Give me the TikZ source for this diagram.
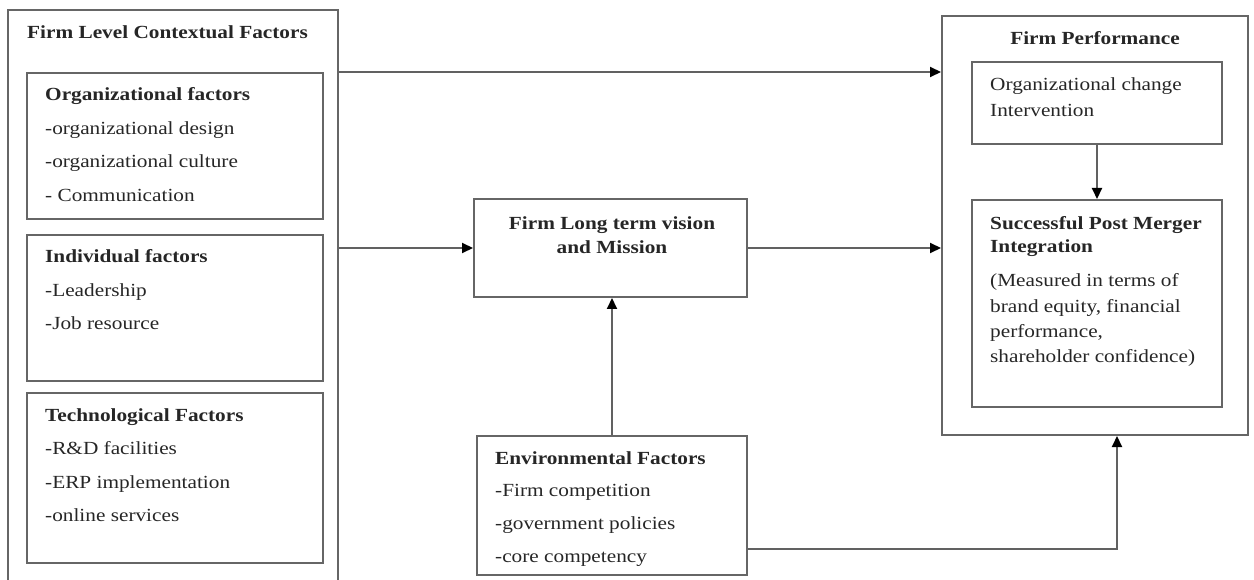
\documentclass[tikz,border=0pt]{standalone}
\usepackage{fontspec}
\setmainfont{Liberation Serif}[FakeStretch=1.15]
\usetikzlibrary{arrows.meta}

\tikzset{
  box/.style={draw=black!60, line width=2pt, inner sep=0pt},
  txt/.style={anchor=base west, inner sep=0pt, text=black!85},
  arr/.style={draw=black!62, line width=2pt, -{Triangle[length=11pt,width=10pt,black]}},
}

\begin{document}
\begin{tikzpicture}[x=1pt, y=-1pt, font=\fontsize{18.5}{22}\selectfont]
  \useasboundingbox (0,0) rectangle (1254,580);
  \clip (0,0) rectangle (1254,580);

  % left column
  \node[box, minimum width=330pt, minimum height=590pt] (ctx) at (173,305) {};
  \node[txt] (ctx-title) at (27,39) {\textbf{Firm Level Contextual Factors}};
  \node[box, minimum width=296pt, minimum height=146pt] (org) at (175,146) {};
  \node[box, minimum width=296pt, minimum height=146pt] (ind) at (175,308) {};
  \node[box, minimum width=296pt, minimum height=170pt] (tech) at (175,478) {};
  \foreach \t [count=\i from 0] in {\textbf{Organizational factors}, -organizational design, -organizational culture, - Communication}
    \node[txt] (org-\i) at (45,{101+33.5*\i}) {\t};
  \foreach \t [count=\i from 0] in {\textbf{Individual factors}, -Leadership, -Job resource}
    \node[txt] (ind-\i) at (45,{263+33.5*\i}) {\t};
  \foreach \t [count=\i from 0] in {\textbf{Technological Factors}, -R\&D facilities, -ERP implementation, -online services}
    \node[txt] (tech-\i) at (45,{421+33.5*\i}) {\t};

  % middle column
  \node[box, minimum width=273pt, minimum height=98pt] (vis) at (610.5,248) {};
  \node[txt, anchor=base] (vis-0) at (612,230) {\textbf{Firm Long term vision}};
  \node[txt, anchor=base] (vis-1) at (612,254) {\textbf{and Mission}};
  \node[box, minimum width=270pt, minimum height=139pt] (env) at (612,505.5) {};
  \foreach \t [count=\i from 0] in {\textbf{Environmental Factors}, -Firm competition, -government policies, -core competency}
    \node[txt] (env-\i) at (495,{464+32.7*\i}) {\t};

  % right column
  \node[box, minimum width=306pt, minimum height=419pt] (fp) at (1095,225.5) {};
  \node[txt, anchor=base] (fp-title) at (1095,45) {\textbf{Firm Performance}};
  \node[box, minimum width=250pt, minimum height=82pt] (oc) at (1097,103) {};
  \node[txt] (oc-0) at (990,91) {Organizational change};
  \node[txt] (oc-1) at (990,117) {Intervention};
  \node[box, minimum width=250pt, minimum height=207pt] (spmi) at (1097,303.5) {};
  \node[txt] (spmi-0) at (990,230) {\textbf{Successful Post Merger}};
  \node[txt] (spmi-1) at (990,253) {\textbf{Integration}};
  \foreach \t [count=\i from 0] in {{(Measured in terms of}, {brand equity, financial}, {performance,}, {shareholder confidence)}}
    \node[txt] (spmi-m\i) at (990,{287+25.3*\i}) {\t};

  % connectors
  \draw[arr] (org.north -| ctx.east) -- (org.north -| fp.west);
  \draw[arr] (ctx.east |- vis.west) -- (vis.west);
  \draw[arr] (vis.east) -- (vis.east -| fp.west);
  \draw[arr] (env.north) -- (env.north |- vis.south);
  \draw[arr] (oc.south) -- (oc.south |- spmi.north);
  \draw[arr] (env.east |- 0,549) -| ([xshift=22pt]fp.south);
\end{tikzpicture}
\end{document}
